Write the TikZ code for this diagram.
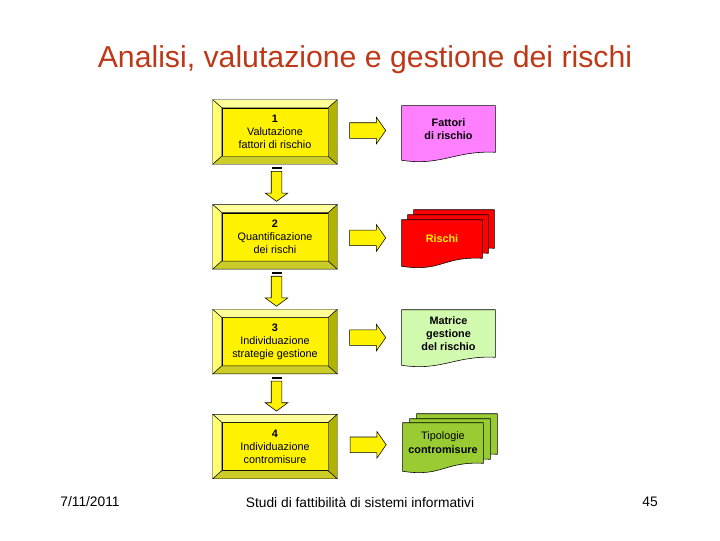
\documentclass[tikz,border=0pt]{standalone}
\usepackage{fontspec}
\setmainfont{Liberation Sans}
\usetikzlibrary{positioning,calc,shapes.arrows,backgrounds}

\definecolor{titlered}{RGB}{190,56,24}
\definecolor{bevellight}{RGB}{255,255,153}
\definecolor{bevelleft}{RGB}{255,255,110}
\definecolor{beveldark}{RGB}{178,178,0}
\definecolor{bevelshade}{RGB}{204,204,40}
\definecolor{docpink}{RGB}{255,128,255}
\definecolor{docgreen}{RGB}{210,250,175}
\definecolor{docolive}{RGB}{153,204,51}

% outline of a document sheet around a node, shifted by #2
\newcommand{\sheetpath}[2]{($(#1.north west)+(#2)$) -- ($(#1.north east)+(#2)$) -- ($(#1.south east)+(#2)$)
  .. controls ($(#1.south east)+(#2)+(-40,-2)$) and ($(#1.south west)+(#2)+(40,14)$) .. ($(#1.south west)+(#2)+(0,8)$) -- cycle}

\begin{document}
\begin{tikzpicture}[x=0.025cm, y=-0.025cm,
    stepbox/.style={fill=yellow, draw=black, line width=0.3pt, minimum width=2.65cm, minimum height=1.2cm,
      inner sep=0pt, align=center, font=\fontsize{7.7}{9.3}\selectfont},
    sheet/.style={minimum width=2.325cm, inner sep=0pt, align=center, font=\fontsize{7.7}{9.3}\selectfont\bfseries},
    sheetline/.style={draw=black, line width=0.4pt},
    rightarrow/.style={single arrow, draw=black, fill=yellow, line width=0.4pt, minimum height=0.9cm,
      inner xsep=0pt, inner ysep=0.1875cm, single arrow head extend=0.1375cm, single arrow tip angle=110},
    downarrow/.style={single arrow, draw=black, fill=yellow, line width=0.4pt, rotate=-90, minimum height=0.75cm,
      inner xsep=0pt, inner ysep=0.125cm, single arrow head extend=0.15cm, single arrow tip angle=107},
    footer/.style={font=\fontsize{9.8}{12}\selectfont}]
  \useasboundingbox (0,0) rectangle (720,540);

  \node[font=\fontsize{21.5}{24}\selectfont, text=titlered] (title) at (365,60) {Analisi, valutazione e gestione dei rischi};

  % steps
  \node[stepbox] (s1) at (275,132) {\textbf{1}\\Valutazione\\fattori di rischio};
  \node[stepbox, below=1.41cm of s1] (s2) {\textbf{2}\\Quantificazione\\dei rischi};
  \node[stepbox, below=1.41cm of s2] (s3) {\textbf{3}\\Individuazione\\strategie gestione};
  \node[stepbox, below=1.41cm of s3] (s4) {\textbf{4}\\Individuazione\\contromisure};

  % bevels
  \foreach \i in {1,...,4}{
    \coordinate (onw) at ($(s\i.north west)+(-9,-8)$);
    \coordinate (one) at ($(s\i.north east)+(9,-8)$);
    \coordinate (osw) at ($(s\i.south west)+(-9,8)$);
    \coordinate (ose) at ($(s\i.south east)+(9,8)$);
    \filldraw[fill=bevellight, line width=0.3pt] (onw) -- (one) -- (s\i.north east) -- (s\i.north west) -- cycle;
    \filldraw[fill=bevelleft, line width=0.3pt] (onw) -- (s\i.north west) -- (s\i.south west) -- (osw) -- cycle;
    \filldraw[fill=bevelshade, line width=0.3pt] (osw) -- (s\i.south west) -- (s\i.south east) -- (ose) -- cycle;
    \filldraw[fill=beveldark, line width=0.3pt] (ose) -- (s\i.south east) -- (s\i.north east) -- (one) -- cycle;
  }

  % documents
  \node[sheet, minimum height=1.15cm] (d1) at (448.5,129) {Fattori\\di rischio};
  \node[sheet, minimum width=2cm, minimum height=0.95cm, text=yellow] (d2) at (442,239) {Rischi};
  \node[sheet, minimum height=1.175cm] (d3) at (448.5,333.5) {Matrice\\gestione\\del rischio};
  \node[sheet, minimum width=2cm, minimum height=1cm, font=\fontsize{7.7}{10}\selectfont] (d4) at (443,443) {Tipologie\\\textbf{contromisure}};

  \begin{scope}[on background layer]
    \filldraw[sheetline, fill=docpink] \sheetpath{d1}{0,0};
    \foreach \o in {{12,-10},{6,-5},{0,0}}
      \filldraw[sheetline, fill=red] \sheetpath{d2}{\o};
    \filldraw[sheetline, fill=docgreen] \sheetpath{d3}{0,0};
    \foreach \o in {{14,-9},{7,-4},{0,0}}
      \filldraw[sheetline, fill=docolive] \sheetpath{d4}{\o};
  \end{scope}

  % arrows
  \foreach \i in {1,...,4}
    \node[rightarrow] (rs\i) at ($(s\i.east)!0.5!(d\i.west)$) {};
  \foreach \i/\j in {1/2,2/3,3/4}{
    \node[downarrow] (dn\i) at ($(s\i.south)!0.5!(s\j.north)+(1.5,0)$) {};
    \fill ($(dn\i.tail)+(-5,-4)$) rectangle ($(dn\i.tail)+(5,-2)$);
  }

  \node[footer] (date) at (90,502) {7/11/2011};
  \node[footer] (foot) at (360,502) {Studi di fattibilità di sistemi informativi};
  \node[footer] (page) at (650,502) {45};
\end{tikzpicture}
\end{document}
